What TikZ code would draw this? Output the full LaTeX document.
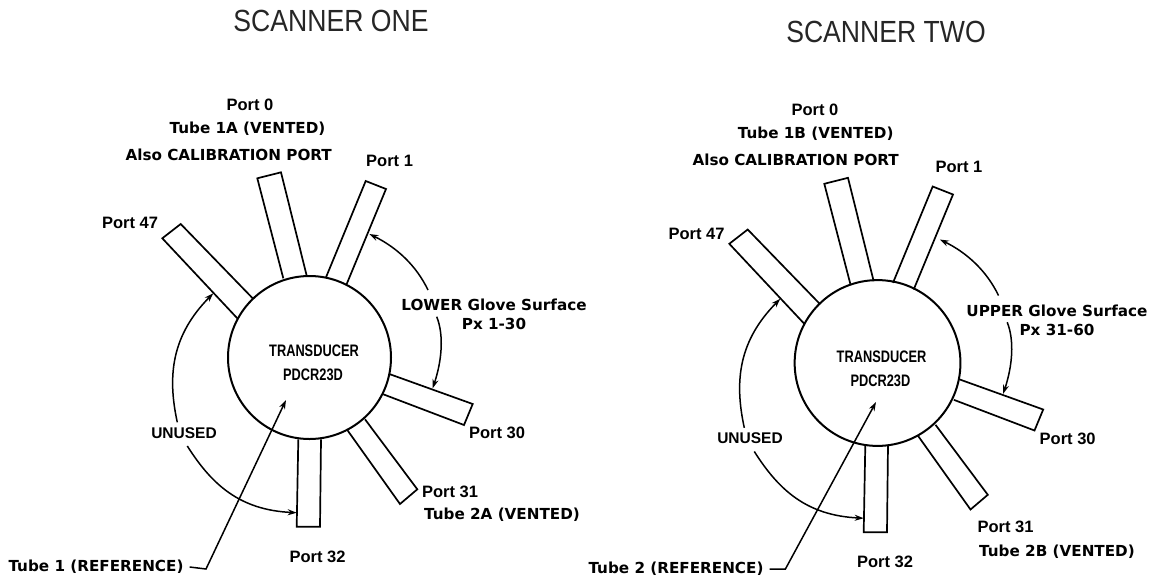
\documentclass[tikz,border=0pt]{standalone}
\usepackage{fontspec}
\setmainfont{Liberation Sans}
\newfontfamily\labfont{DejaVu Sans}
\usetikzlibrary{arrows.meta,shapes.geometric}
\newcommand{\tallbox}[2]{\scalebox{1}[#1]{#2}}
\tikzset{
  titlelab/.style={font=\fontsize{26.6}{30}\selectfont,inner sep=0pt,text=black!85},
  boldlab/.style={font=\labfont\bfseries\fontsize{15.2}{17}\selectfont,inner sep=0pt},
  portlab/.style={font=\bfseries\fontsize{16.5}{18}\selectfont,inner sep=0pt},
  plainlab/.style={font=\bfseries\fontsize{12.8}{15}\selectfont,inner sep=0pt},
  unusedlab/.style={font=\bfseries\fontsize{15.5}{17}\selectfont,inner sep=0pt},
  tube/.style={draw,line width=1.7pt,line join=miter},
  hub/.style={draw,line width=2pt,circle,inner sep=0pt},
  conn/.style={draw,line width=1.5pt},
  head/.style={conn,-{Stealth[length=9pt,width=6pt]}}
}
% #1 prefix, #2 #3 shift, #4 extra shift of the right-hand parts
\newcommand{\scannerparts}[4]{%
  \begin{scope}[shift={(#2,#3)}]
    \path[tube] (283.3,278.3) -- (257.3,178.3) -- (281,172.3) -- (306.7,275.7);
    \path[tube] (326,277.3) -- (365.7,181) -- (386,189) -- (346.7,284);
    \path[tube] (237.3,318.3) -- (162.3,238.3) -- (180.7,224) -- (252.7,298.3);
    \path[tube,xshift=#4pt] (389.3,374) -- (472.7,404) -- (464,425) -- (383.3,394.3);
    \path[tube,xshift=#4pt] (365,419.3) -- (417.3,489.3) -- (400,504) -- (347.3,430);
    \path[tube] (298.3,439.3) -- (296.7,526.7) -- (320,526.7) -- (321,439.3);
    \node[hub,minimum size={163pt+0.8pt*#4}] (#1hub) at ({309.5+0.3*#4},357.5) {};
    \coordinate (#1a) at ({428+#4},290);
    \coordinate (#1b) at ({369.3+#4},234);
    \coordinate (#1c) at ({436.7+#4},316.7);
    \coordinate (#1d) at ({432.7+#4},388.3);
    \coordinate (#1e) at (177.3,422.3);
    \coordinate (#1f) at (213.3,293.3);
    \coordinate (#1g) at (187.3,446);
    \coordinate (#1h) at (296.7,512.7);
    \path[head] (#1a) .. controls ({416+#4},265) and ({396+#4},247) .. (#1b);
    \path[head] (#1c) .. controls ({444+#4},335) and ({442+#4},360) .. (#1d);
    \path[head] (#1e) .. controls (167,375) and (172,335) .. (#1f);
    \path[head] (#1g) .. controls (212,485) and (240,510) .. (#1h);
  \end{scope}}
\begin{document}
\begin{tikzpicture}[x=1pt,y=-1pt]
\useasboundingbox (0,0) rectangle (1160,582);
\scannerparts{l}{0}{0}{0}
\scannerparts{r}{567}{5.5}{3.5}
\coordinate (lbend) at (206,569);
\coordinate (ltip) at (286,400);
\coordinate (rbend) at (785.4,569);
\coordinate (rtip) at (876,402);
% left labels
\node[titlelab] (t1) at (331,21) {\tallbox{1.15}{SCANNER ONE}};
\node[portlab] (l0) at (250,105) {Port 0};
\node[boldlab] (l1) at (247.5,129) {Tube 1A (VENTED)};
\node[boldlab] (l2) at (228.7,155) {Also CALIBRATION PORT};
\node[portlab] (l3) at (389.6,161) {Port 1};
\node[portlab] (l4) at (130,223) {Port 47};
\node[boldlab] (l5) at (494,305) {LOWER Glove Surface};
\node[boldlab] (l6) at (494,324) {Px 1-30};
\node[plainlab] (l7) at (314,351) {\tallbox{1.3}{TRANSDUCER}};
\node[plainlab] (l8) at (313,375) {\tallbox{1.3}{PDCR23D}};
\node[unusedlab] (l9) at (184,433) {UNUSED};
\node[portlab] (l10) at (497,433) {Port 30};
\node[portlab] (l11) at (450,492) {Port 31};
\node[boldlab] (l12) at (502,515) {Tube 2A (VENTED)};
\node[portlab] (l13) at (317.5,557) {Port 32};
\node[boldlab] (l14) at (96,567) {Tube 1 (REFERENCE)};
\path[head] ([xshift=6pt]l14.east) -- (lbend) -- (ltip);
% right labels
\node[titlelab] (t2) at (886,32) {\tallbox{1.15}{SCANNER TWO}};
\node[portlab] (r0) at (815,110) {Port 0};
\node[boldlab] (r1) at (815.7,134) {Tube 1B (VENTED)};
\node[boldlab] (r2) at (795.7,160) {Also CALIBRATION PORT};
\node[portlab] (r3) at (959,167) {Port 1};
\node[portlab] (r4) at (696.5,234) {Port 47};
\node[boldlab] (r5) at (1057,311) {UPPER Glove Surface};
\node[boldlab] (r6) at (1057,330) {Px 31-60};
\node[plainlab] (r7) at (881.5,357) {\tallbox{1.3}{TRANSDUCER}};
\node[plainlab] (r8) at (880.4,381) {\tallbox{1.3}{PDCR23D}};
\node[unusedlab] (r9) at (750,438) {UNUSED};
\node[portlab] (r10) at (1067.7,439) {Port 30};
\node[portlab] (r11) at (1005.5,527) {Port 31};
\node[boldlab] (r12) at (1057,552) {Tube 2B (VENTED)};
\node[portlab] (r13) at (885,562) {Port 32};
\node[boldlab] (r14) at (676,569) {Tube 2 (REFERENCE)};
\path[head] ([xshift=6pt]r14.east) -- (rbend) -- (rtip);
\end{tikzpicture}
\end{document}
